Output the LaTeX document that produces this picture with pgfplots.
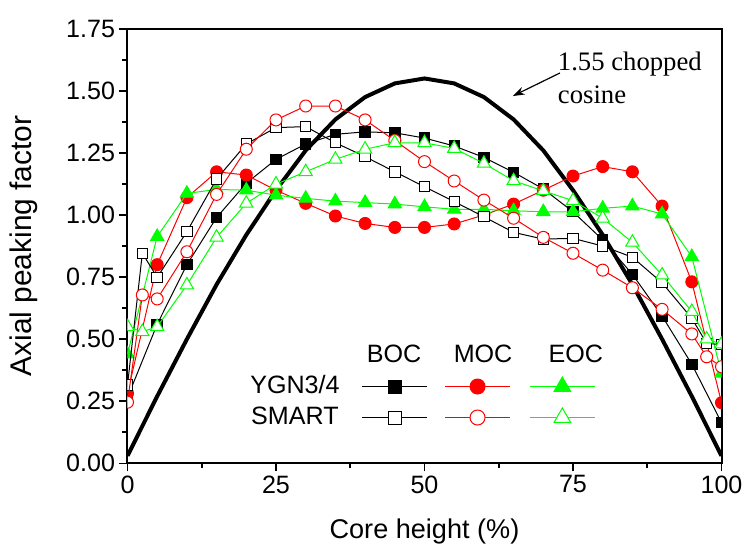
\documentclass[border=0pt]{standalone}
\usepackage{fontspec}
\setmainfont{Liberation Sans}
\newfontfamily\seriffont{Liberation Serif}
\usepackage{pgfplots}
\pgfplotsset{compat=1.18}
\usetikzlibrary{arrows.meta}
\definecolor{cRed}{RGB}{255,0,0}
\definecolor{cGreen}{RGB}{0,255,0}
\pgfplotsset{
  lgline/.style={legend image code/.code={%
    \draw[mark repeat=2,mark phase=2,##1,every mark/.append style={scale=1.25}] plot coordinates {(0bp,0bp) (16.25bp,0bp) (32.5bp,0bp)};}},
  lghead/.style 2 args={legend image code/.code={%
    \node[inner sep=0pt, minimum width=32.5bp, minimum height=1bp, anchor=west, draw=none] at (0bp,0bp) {};
    \node[inner sep=0pt, draw=none] at (#2,0bp) {#1};}},
  bocY/.style={black, line width=0.5bp, mark=square*, mark size=2.6bp, mark options={solid, fill=black}},
  bocS/.style={black, line width=0.5bp, mark=square*, mark size=2.6bp, mark options={solid, fill=white}},
  mocY/.style={cRed, line width=0.5bp, mark=*, mark size=3bp, mark options={solid, fill=cRed}},
  mocS/.style={cRed, line width=0.5bp, mark=*, mark size=3bp, mark options={solid, fill=white}},
  eocY/.style={cGreen, line width=0.5bp, mark=triangle*, mark size=3.8bp, mark options={solid, fill=cGreen}},
  eocS/.style={cGreen, line width=0.5bp, mark=triangle*, mark size=3.8bp, mark options={solid, fill=white}},
}
\begin{document}
\begin{tikzpicture}
\begin{axis}[
  scale only axis, width=297bp, height=217.25bp,
  xmin=0, xmax=100, ymin=0, ymax=1.75,
  xtick={0,25,50,75,100}, ytick={0,0.25,0.5,0.75,1,1.25,1.5,1.75},
  minor x tick num=1, minor y tick num=1,
  xtick pos=bottom, ytick pos=left, tick align=outside,
  major tick length=4bp, minor tick length=2.5bp,
  every tick/.style={black, line width=0.8bp},
  axis line style={line width=1bp},
  /pgf/number format/assume math mode=true,
  yticklabel style={/pgf/number format/.cd, fixed, fixed zerofill, precision=2},
  tick label style={font=\fontsize{12.6}{15}\selectfont, inner sep=2bp},
  xlabel={Core height (\%)}, ylabel={Axial peaking factor},
  every axis x label/.style={at={(axis description cs:0.5,-0.1565)}, anchor=center, font=\fontsize{13.6}{16}\selectfont},
  every axis y label/.style={at={(axis description cs:-0.174,0.5)}, anchor=center, rotate=90, font=\fontsize{15}{17}\selectfont},
  clip mode=individual, clip marker paths=true,
  legend plot pos=right, legend columns=3,
  legend style={draw=none, fill=none, at={(axis cs:20.6,0.482)}, anchor=north west,
    inner sep=0pt, row sep=4bp, font=\fontsize{12.6}{15}\selectfont,
    nodes={inner sep=0pt, text height=9bp, text depth=2.5bp},
    /tikz/every even column/.append style={column sep=7.5bp},
    /tikz/column 1/.append style={column sep=11bp}},
]
\coordinate (bl) at (rel axis cs:0,0);
\coordinate (tr) at (rel axis cs:1,1);

% 1.55 chopped cosine
\addplot[forget plot, black, line width=2bp, mark=none] coordinates {
  (0,0.03) (5,0.27) (10,0.50) (15,0.72) (20,0.92) (25,1.10) (30,1.26)
  (35,1.385) (40,1.475) (45,1.53) (50,1.55) (55,1.53) (60,1.475) (65,1.385)
  (70,1.26) (75,1.10) (80,0.92) (85,0.72) (90,0.50) (95,0.27) (100,0.03)};

% YGN3/4
\addplot[forget plot, bocY] coordinates {
  (0,0.265) (5,0.56) (10,0.80) (15,0.99) (20,1.128) (25,1.224) (30,1.286)
  (35,1.325) (40,1.335) (45,1.331) (50,1.31) (55,1.278) (60,1.232) (65,1.172)
  (70,1.105) (75,1.013) (80,0.90) (85,0.761) (90,0.593) (95,0.399) (100,0.164)};
\addplot[forget plot, mocY] coordinates {
  (0,0.282) (5,0.80) (10,1.07) (15,1.174) (20,1.161) (25,1.10) (30,1.047)
  (35,0.996) (40,0.966) (45,0.95) (50,0.95) (55,0.964) (60,1.00) (65,1.044)
  (70,1.10) (75,1.157) (80,1.195) (85,1.174) (90,1.036) (95,0.731) (100,0.244)};
\addplot[forget plot, eocY] coordinates {
  (0,0.44) (5,0.913) (10,1.087) (15,1.103) (20,1.10) (25,1.08) (30,1.067)
  (35,1.056) (40,1.05) (45,1.044) (50,1.033) (55,1.023) (60,1.023) (65,1.017)
  (70,1.013) (75,1.013) (80,1.027) (85,1.036) (90,1.004) (95,0.832) (100,0.362)};

% SMART
\addplot[forget plot, bocS] coordinates {
  (0,0.315) (2.5,0.846) (5,0.749) (10,0.933) (15,1.145) (20,1.286) (25,1.352)
  (30,1.356) (35,1.291) (40,1.235) (45,1.174) (50,1.114) (55,1.054) (60,0.993)
  (65,0.93) (70,0.903) (75,0.906) (80,0.875) (85,0.83) (90,0.727) (95,0.584)
  (97.5,0.483) (100,0.478)};
\addplot[forget plot, mocS] coordinates {
  (0,0.246) (2.5,0.678) (5,0.662) (10,0.852) (15,1.083) (20,1.265) (25,1.383)
  (30,1.439) (35,1.439) (40,1.383) (45,1.30) (50,1.215) (55,1.137) (60,1.06)
  (65,0.987) (70,0.91) (75,0.846) (80,0.778) (85,0.707) (90,0.62) (95,0.521)
  (97.5,0.429) (100,0.389)};
\addplot[forget plot, eocS] coordinates {
  (0,0.55) (2.5,0.53) (5,0.55) (10,0.718) (15,0.91) (20,1.047) (25,1.124)
  (30,1.174) (35,1.224) (40,1.265) (45,1.291) (50,1.291) (55,1.268) (60,1.208)
  (65,1.138) (70,1.097) (75,1.058) (80,0.987) (85,0.89) (90,0.758) (95,0.611)
  (97.5,0.50) (100,0.48)};

% legend: header row, then YGN3/4 and SMART rows
\addlegendimage{lghead={BOC}{16bp}}\addlegendentry{}
\addlegendimage{lghead={MOC}{19bp}}\addlegendentry{}
\addlegendimage{lghead={EOC}{23bp}}\addlegendentry{}
\addlegendimage{bocY, lgline}\addlegendentry{YGN3/4}
\addlegendimage{mocY, lgline}\addlegendentry{}
\addlegendimage{eocY, lgline}\addlegendentry{}
\addlegendimage{bocS, lgline}\addlegendentry{SMART}
\addlegendimage{mocS, lgline}\addlegendentry{}
\addlegendimage{eocS, lgline}\addlegendentry{}

% annotation
\node[anchor=base west, inner sep=0pt, font=\seriffont\fontsize{13.4}{16}\selectfont] at (axis cs:72.4,1.584) {1.55 chopped};
\node[anchor=base west, inner sep=0pt, font=\seriffont\fontsize{13.4}{16}\selectfont] at (axis cs:72.4,1.451) {cosine};
\draw[-{Stealth[length=6bp,width=4bp]}, line width=0.6bp] (axis cs:72.8,1.572) -- (axis cs:64.85,1.479);
\end{axis}
\pgfresetboundingbox
\path[use as bounding box] ([xshift=-63.75bp,yshift=-41.85bp]bl) rectangle ([xshift=11.25bp,yshift=14.4bp]tr);
\end{tikzpicture}
\end{document}
